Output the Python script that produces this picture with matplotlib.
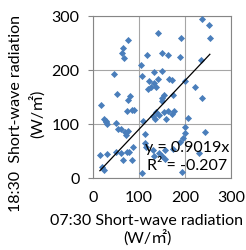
import matplotlib
matplotlib.use("Agg")
import matplotlib.pyplot as plt

x_0730 = [238, 253, 254, 142, 191, 77, 65, 62, 68, 151,
          164, 118, 189, 234, 46, 104, 107, 150, 132, 141,
          165, 172, 199, 122, 133, 127, 119, 138, 221, 238,
          53, 80, 75, 149, 154, 174, 151, 18, 73, 85,
          89, 138, 144, 154, 162, 172, 175, 159, 131, 135,
          206, 24, 28, 31, 29, 49, 109, 55, 60, 70,
          72, 75, 200, 201, 244, 112, 196, 87, 112, 190,
          115, 15, 30, 49, 60, 74, 78, 65, 84, 131,
          143, 156, 133, 174, 230, 19, 23, 106, 193, 149,
          156]
y_1830 = [294, 283, 260, 269, 260, 256, 240, 231, 222, 232,
          228, 228, 224, 219, 192, 209, 189, 199, 196, 183,
          183, 182, 180, 180, 176, 169, 165, 168, 169, 149,
          156, 151, 144, 149, 153, 153, 143, 135, 125, 126,
          126, 122, 117, 123, 124, 119, 124, 109, 114, 109,
          111, 109, 105, 100, 103, 101, 105, 90, 90, 85,
          80, 87, 95, 84, 85, 82, 74, 58, 65, 66,
          57, 42, 45, 48, 47, 48, 48, 33, 33, 51,
          46, 52, 40, 53, 47, 20, 15, 10, 12, 41,
          35]
slope = 0.9019
r2_text = "R² = -0.207"
ticks = [0, 100, 200, 300]
xlabel_lines = ["07:30 Short-wave radiation", "(W/㎡)"]
ylabel_lines = ["18:30  Short-wave radiation", "(W/㎡)"]

FAM = ["Lato", "Noto Sans CJK JP", "DejaVu Sans"]
plt.rcParams['font.family'] = FAM
FS = 11.5

fig = plt.figure(figsize=(2.46, 2.51), dpi=100)
ax = fig.add_axes([93/246, 1-179/251, 138/246, 162/251])

ax.scatter(x_0730, y_1830, marker='D', s=13, color='#4A7EBB', linewidths=0, zorder=3)
xl = [min(x_0730), max(x_0730)]
ax.plot(xl, [slope*v for v in xl], color='black', lw=0.9, zorder=4)

ax.set_xlim(0, 300)
ax.set_ylim(0, 300)
ax.set_xticks(ticks)
ax.set_yticks(ticks)
ax.grid(True, color='#A6A6A6', lw=0.8, zorder=0)
for s in ax.spines.values():
    s.set_color('#868686')
    s.set_linewidth(0.8)
ax.tick_params(axis='both', labelsize=FS, colors='#868686', labelcolor='black', length=3.6, width=0.8)
ax.tick_params(axis='y', pad=6)
ax.tick_params(axis='x', length=0, pad=8.5)

ax.text(113, 50.5, f"y = {slope}x", fontsize=FS, va='baseline', zorder=5)
ax.text(116.5, 17, r2_text, fontsize=FS, va='baseline', zorder=5)

fig.text(147/246, 1-221.5/251, xlabel_lines[0], ha='center', va='center', fontsize=FS)
fig.text(147/246, 1-239/251, xlabel_lines[1], ha='center', va='center', fontsize=FS)
fig.text(16.5/246, 1-113.5/251, ylabel_lines[0], ha='center', va='center', rotation=90, fontsize=FS)
fig.text(38/246, 1-113.5/251, ylabel_lines[1], ha='center', va='center', rotation=90, fontsize=FS)

fig.savefig("out.png", dpi=100)
